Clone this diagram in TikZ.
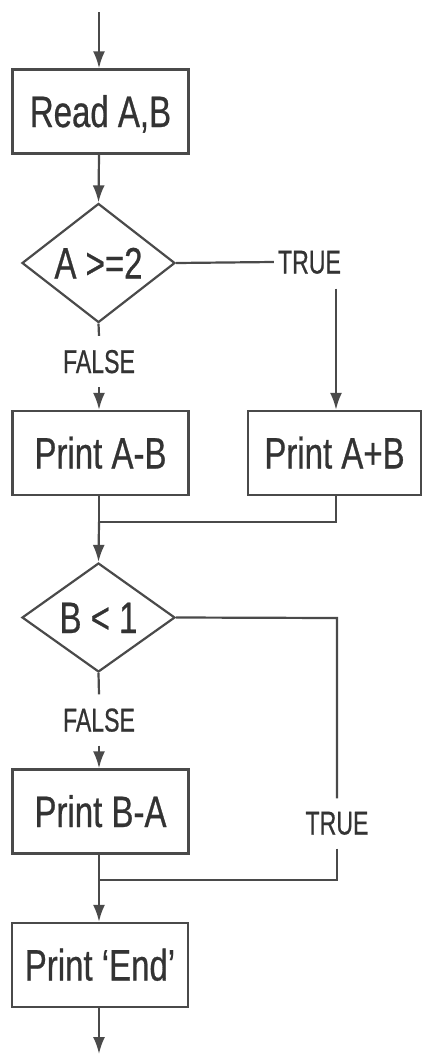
\documentclass[tikz,border=0pt]{standalone}
\usepackage{fontspec}
\setmainfont{Liberation Sans}[FakeStretch=0.75,FakeBold=0.6]
\newfontfamily\lblfont{Liberation Sans}[FakeStretch=0.70,FakeBold=0.6]
\usetikzlibrary{shapes.geometric,arrows.meta}
\definecolor{lc}{HTML}{4A4A4A}
\definecolor{tc}{HTML}{333333}
\tikzset{
  conn/.style={draw=lc, line width=2.2pt},
  arr/.style={conn, -{Latex[length=17pt,width=12pt]}},
  procbox/.style={draw=lc, line width=2.4pt, rectangle, minimum width=176pt, minimum height=84pt,
    inner sep=0pt, text=tc, font=\fontsize{44}{50}\selectfont, text height=31pt, text depth=0pt},
  decision/.style={draw=lc, line width=2.2pt, diamond, minimum width=153pt, minimum height=106pt,
    inner sep=0pt, text=tc, font=\fontsize{44}{50}\selectfont, text height=31pt, text depth=0pt},
  lbl/.style={inner sep=0pt, text=tc, font=\lblfont\fontsize{33}{40}\selectfont, text height=23pt, text depth=0pt}
}
\begin{document}
\begin{tikzpicture}[x=1pt,y=-1pt]
\useasboundingbox (0,0) rectangle (422,1055);
% nodes
\coordinate (start) at (99,12);
\node[procbox] (read) at (100.5,111.5) {Read A,B};
\node[decision] (d1) at (98.5,263) {A >=2};
\node[lbl] (t1) at (309.5,262) {TRUE};
\node[lbl] (f1) at (99,361.5) {FALSE};
\node[procbox] (amb) at (100.5,453) {Print A-B};
\node[procbox, minimum width=173pt] (apb) at (334.5,453) {Print A+B};
\coordinate (j1) at (99,522);
\coordinate (j1r) at (336,522);
\node[decision, minimum height=109pt] (d2) at (98.5,617.5) {B < 1};
\coordinate (c2) at (337,618);
\node[lbl] (t2) at (337,823) {TRUE};
\node[lbl] (f2) at (99,720) {FALSE};
\node[procbox] (bma) at (100.5,811.5) {Print B-A};
\coordinate (j2) at (99,880);
\coordinate (j2r) at (337,880);
\node[procbox] (endp) at (100,965) {Print `End'};
\coordinate (stop) at (99,1054);
% connectors
\draw[arr] (start) -- (read.north -| start);
\draw[arr] (read.south -| start) -- (d1.north);
\draw[conn] (d1.east) -- ([xshift=-4pt]t1.west);
\draw[arr] ([yshift=-15pt]t1.south -| j1r) -- (apb.north -| j1r);
\draw[conn] (d1.south) -- ([yshift=14pt]f1.north);
\draw[arr] ([yshift=-14pt]f1.south) -- (amb.north -| f1);
\draw[conn] (amb.south -| j1) -- (j1);
\draw[conn] (apb.south -| j1r) -- (j1r) -- (j1);
\draw[arr] (j1) -- (d2.north);
\draw[conn] (d2.east) -- (c2) -- ([yshift=13pt]t2.north -| c2);
\draw[conn] ([yshift=-14pt]t2.south -| c2) -- (j2r) -- (j2);
\draw[conn] (d2.south) -- ([yshift=14pt]f2.north);
\draw[arr] ([yshift=-14pt]f2.south) -- (bma.north -| f2);
\draw[conn] (bma.south -| j2) -- (j2);
\draw[arr] (j2) -- (endp.north -| j2);
\draw[arr] (endp.south -| stop) -- (stop);
\end{tikzpicture}
\end{document}
